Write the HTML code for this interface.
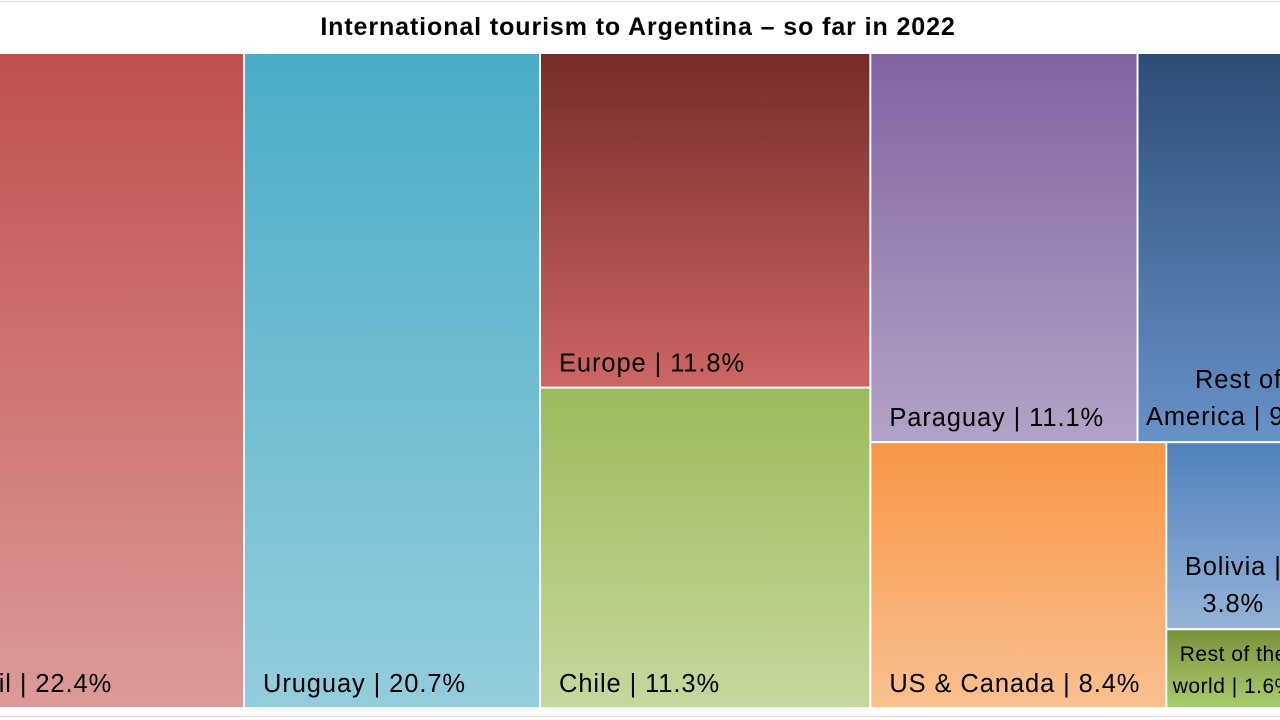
<!DOCTYPE html>
<html><head><meta charset="utf-8">
<style>
html,body{margin:0;padding:0;background:#fff;width:1280px;height:720px;overflow:hidden;font-family:"Liberation Sans",sans-serif}
#title{position:absolute;left:0;top:13px;width:1276px;text-align:center;font-weight:bold;font-size:25px;letter-spacing:0.9px;color:#000}
#chart{position:absolute;left:0;top:0}
.topline{position:absolute;left:0;width:1280px;height:1px;background:#d9d9d9}
</style></head><body>
<div class="topline" style="top:1px"></div>
<div class="topline" style="top:716px"></div>
<div id="title">International tourism to Argentina – so far in 2022</div>
<svg id="chart" width="1280" height="720"></svg>
<script>
const categories=["Brazil","Uruguay","Europe","Chile","Paraguay","Rest of America","US & Canada","Bolivia","Rest of the world"];
const shares=[22.4,20.7,11.8,11.3,11.1,9.1,8.4,3.8,1.6];
const labels=["Brazil | 22.4%","Uruguay | 20.7%","Europe | 11.8%","Chile | 11.3%","Paraguay | 11.1%","Rest of\nAmerica | 9.1%","US & Canada | 8.4%","Bolivia |\n3.8%","Rest of the\nworld | 1.6%"];
const topColors=["#c0504d","#4bacc6","#772c2a","#9bbb59","#8064a2","#2c4d75","#f79646","#4f81bd","#77933c"];
const botColors=["#dc9a99","#93cddd","#cc6664","#c5d89e","#b3a2c7","#6792c9","#fac090","#95b3d7","#a8cc6c"];
const tree={d:"h",c:[0,1,{d:"v",c:[2,3]},{d:"v",c:[{d:"h",c:[4,5]},{d:"h",c:[6,{d:"v",c:[7,8]}]}]}]};
const svg=document.getElementById('chart');
const NS="http://www.w3.org/2000/svg";
const PX=14.3,X0=245-22.4*PX,Y0=54,H=655,GAP=2;
function sum(n){return typeof n==="number"?shares[n]:n.c.reduce((a,b)=>a+sum(b),0);}
const W=sum(tree)*PX;
const rects=[];
function lay(n,x,y,w,h){
  if(typeof n==="number"){rects.push({i:n,x,y,w,h});return;}
  const t=sum(n);let off=0;
  n.c.forEach(ch=>{const f=sum(ch)/t;
    if(n.d==="h"){lay(ch,x+off,y,w*f,h);off+=w*f;}else{lay(ch,x,y+off,w,h*f);off+=h*f;}});
}
lay(tree,X0,Y0,W,H);
const defs=document.createElementNS(NS,'defs');svg.appendChild(defs);
rects.forEach(r=>{
  const g=document.createElementNS(NS,'linearGradient');
  g.setAttribute('id','g'+r.i);g.setAttribute('x1','0');g.setAttribute('y1','0');g.setAttribute('x2','0');g.setAttribute('y2','1');
  [[0,topColors[r.i]],[1,botColors[r.i]]].forEach(([o,c])=>{const s=document.createElementNS(NS,'stop');s.setAttribute('offset',o);s.setAttribute('stop-color',c);g.appendChild(s);});
  defs.appendChild(g);
  const grp=document.createElementNS(NS,'g');
  
  
  const rc=document.createElementNS(NS,'rect');
  rc.setAttribute('x',r.x);rc.setAttribute('y',r.y);rc.setAttribute('width',Math.max(0,r.w-GAP));rc.setAttribute('height',Math.max(0,r.h-GAP));
  rc.setAttribute('fill','url(#g'+r.i+')');
  grp.appendChild(rc);
  const w=r.w-GAP,h=r.h-GAP;
  const small=r.h<100;
  const fs=small?21:25.5;
  const t=document.createElementNS(NS,'text');
  t.setAttribute('font-size',fs);t.setAttribute('fill','#000');
  t.setAttribute('letter-spacing',small?'0.5':'0.9');
  t.setAttribute('font-family','"Liberation Sans",sans-serif');
  
  
  const lines=labels[r.i].split('\n');
  if(lines.length===1){
    t.setAttribute('x',r.x+18);t.setAttribute('y',r.y+h-15);t.textContent=lines[0];
  }else{
    const cx=r.x+Math.min(w/2,r.h<250?66:100);
    t.setAttribute('text-anchor','middle');
    const lh=small?32:37;
    const by=r.y+h-(small?14:16);
    lines.forEach((s,k)=>{const sp=document.createElementNS(NS,'tspan');sp.setAttribute('x',cx);sp.setAttribute('y',by-lh*(lines.length-1-k));sp.textContent=s;t.appendChild(sp);});
  }
  grp.appendChild(t);
  svg.appendChild(grp);
});
</script>
</body></html>
